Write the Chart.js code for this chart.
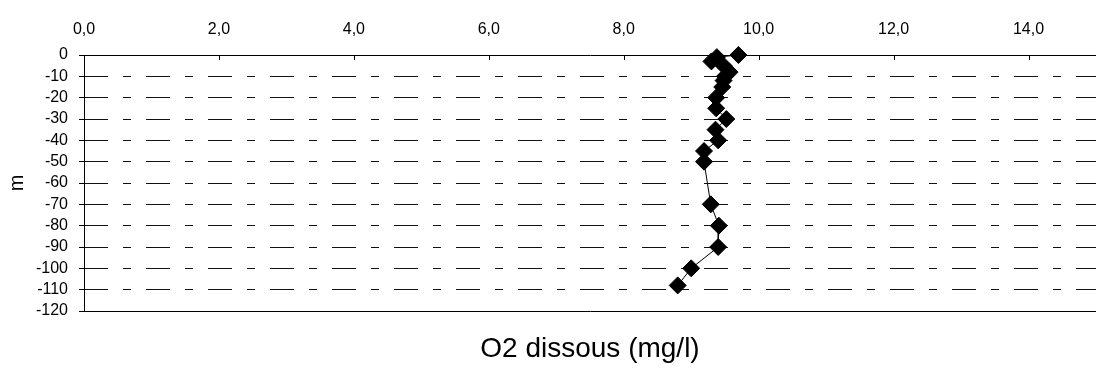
<!DOCTYPE html>
<html>
<head>
<meta charset="utf-8">
<script src="https://cdn.jsdelivr.net/npm/chart.js@4/dist/chart.umd.min.js"></script>
<style>
  html, body { margin: 0; padding: 0; background: #fff; }
  #wrap { width: 1096px; height: 371px; position: relative; }
</style>
</head>
<body>
<div id="wrap"><canvas id="o2Chart"></canvas></div>
<script>
// dissolved oxygen profile: depth (m) vs O2 (mg/l)
const depths = [0, -1, -3, -5, -8, -10, -12, -15, -20, -25, -30, -35, -40, -45, -50, -70, -80, -90, -100, -108];
const o2Values = [9.7, 9.38, 9.3, 9.48, 9.57, 9.5, 9.48, 9.46, 9.37, 9.37, 9.52, 9.36, 9.4, 9.19, 9.19, 9.29, 9.41, 9.4, 9.0, 8.8];
const xTicks = [0, 2, 4, 6, 8, 10, 12, 14];
const yTicks = [0, -10, -20, -30, -40, -50, -60, -70, -80, -90, -100, -110, -120];

const FONT = "'Liberation Sans', Arial, sans-serif";

// small tick marks pointing down from the top axis, plus the solid left axis
const axisMarks = {
    id: 'axisMarks',
    beforeDatasetsDraw(chart) {
        const x = chart.scales.x;
        const area = chart.chartArea;
        const c = chart.ctx;
        c.save();
        c.strokeStyle = '#000';
        c.lineWidth = 1;
        c.setLineDash([]);
        c.beginPath();
        xTicks.forEach(function(v) {
            const px = Math.round(x.getPixelForValue(v)) + 0.5;
            c.moveTo(px, x.bottom);
            c.lineTo(px, x.bottom + 5);
        });
        const lx = Math.round(area.left) + 0.5;
        c.moveTo(lx, area.top);
        c.lineTo(lx, area.bottom);
        c.stroke();
        c.restore();
    }
};

function noSidePadding(s) {
    s.paddingLeft = 0;
    s.paddingRight = 0;
}

document.addEventListener("DOMContentLoaded", function() {
    const ctx = document.getElementById('o2Chart');
    new Chart(ctx, {
        type: 'scatter',
        data: {
            datasets: [{
                label: 'O2 dissous',
                data: depths.map((d, i) => ({ x: o2Values[i], y: d })),
                showLine: true,
                clip: false,
                borderColor: '#000',
                borderWidth: 1,
                backgroundColor: '#000',
                pointStyle: 'rectRot',
                pointRadius: 8.5,
                pointBorderWidth: 1,
                pointBorderColor: '#000',
                pointBackgroundColor: '#000'
            }]
        },
        options: {
            responsive: true,
            maintainAspectRatio: false,
            animation: false,
            layout: { padding: 0, autoPadding: false },
            scales: {
                x: {
                    type: 'linear',
                    position: 'top',
                    min: 0,
                    max: 15,
                    afterBuildTicks: s => { s.ticks = xTicks.map(v => ({ value: v })); },
                    afterFit: s => { s.height = 55; noSidePadding(s); },
                    grid: { drawOnChartArea: false, drawTicks: false },
                    border: { color: '#000', width: 1 },
                    ticks: {
                        color: '#000',
                        padding: 16,
                        maxRotation: 0,
                        autoSkip: false,
                        font: { family: FONT, size: 16 },
                        callback: v => v.toFixed(1).replace('.', ',')
                    }
                },
                x2: {
                    type: 'linear',
                    position: 'bottom',
                    min: 0,
                    max: 15,
                    afterFit: s => { s.height = 60; noSidePadding(s); },
                    grid: { drawOnChartArea: false, drawTicks: false },
                    border: { color: '#000', width: 1 },
                    ticks: { display: false },
                    title: {
                        display: true,
                        text: 'O2 dissous (mg/l)',
                        color: '#000',
                        padding: { top: 0, bottom: 5 },
                        font: { family: FONT, size: 28 }
                    }
                },
                y: {
                    type: 'linear',
                    min: -120,
                    max: 0,
                    afterBuildTicks: s => { s.ticks = yTicks.map(v => ({ value: v })); },
                    afterFit: s => { s.width = 84; },
                    grid: {
                        color: ctx => (ctx.tick && (ctx.tick.value === 0 || ctx.tick.value === -120)) ? 'rgba(0,0,0,0)' : '#111',
                        tickColor: '#000',
                        tickBorderDash: [],
                        tickLength: 5,
                        lineWidth: 1
                    },
                    border: { display: false, dash: [24, 15, 8, 15] },
                    ticks: {
                        color: '#000',
                        padding: 11,
                        autoSkip: false,
                        font: { family: FONT, size: 16 },
                        callback: v => String(v)
                    },
                    title: {
                        display: true,
                        text: 'm',
                        color: '#000',
                        padding: { top: 5, bottom: 0 },
                        font: { family: FONT, size: 20 }
                    }
                }
            },
            plugins: {
                legend: { display: false },
                tooltip: { enabled: false }
            }
        },
        plugins: [axisMarks]
    });
});
</script>
</body>
</html>
